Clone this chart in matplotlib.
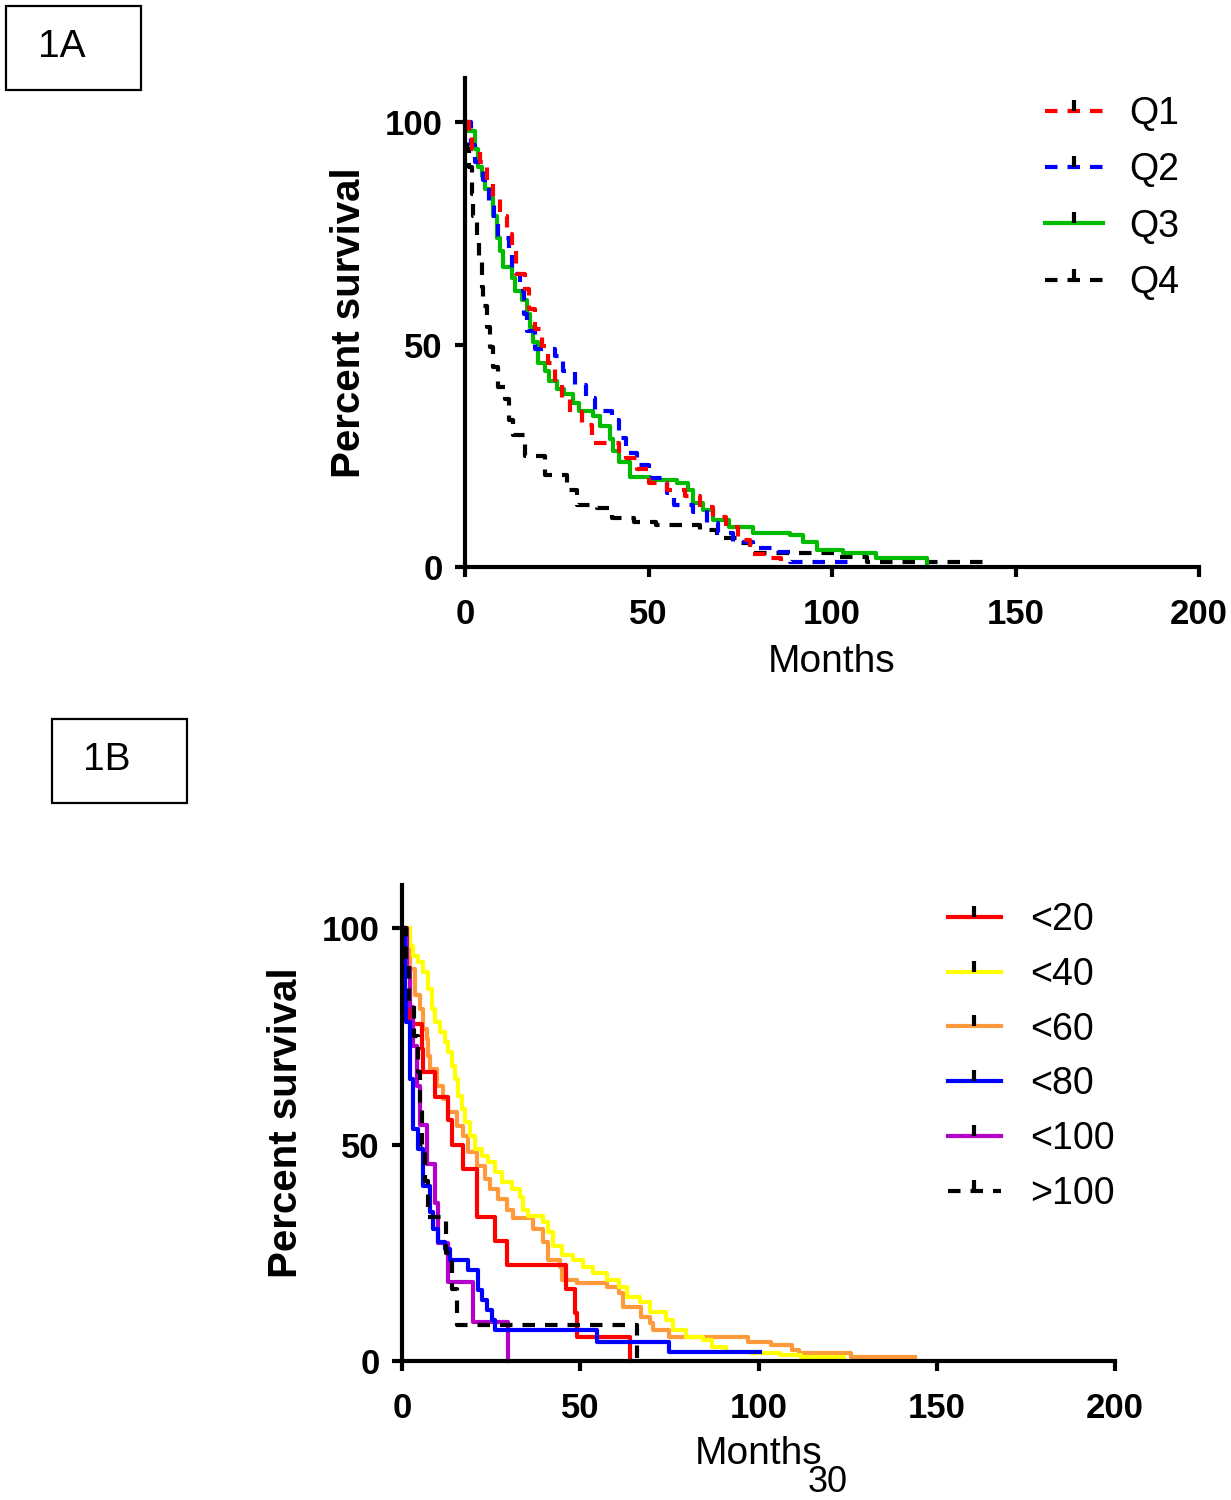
import matplotlib
matplotlib.use("Agg")
import matplotlib.pyplot as plt
from matplotlib.lines import Line2D
from matplotlib.patches import Rectangle

plt.rcParams['font.family'] = ['Liberation Sans', 'DejaVu Sans']

# ---- panel 1A : survival by quartile (months, percent survival) ----
q1_t = [0, 1, 2, 4, 6, 7.6, 9.5, 11.4, 12.8, 14, 16.3, 17.5, 19, 21, 22.6, 24.5, 26.4, 28.6, 32, 34.6,
        42, 44, 47, 50, 55, 60, 64, 67.6, 71, 74.4, 77.6, 82.6, 86]
q1_s = [100, 97, 94, 91, 87, 83, 79, 75, 71, 66, 62.5, 58, 53.5, 49.7, 46, 42, 38, 34.8, 32, 28,
        26, 24.6, 22, 19, 17.4, 16, 13.5, 11.3, 9, 6, 3, 2, 0]

q2_t = [0, 1.5, 2.7, 5, 6.5, 8, 9, 12, 12.8, 15, 16, 17, 19, 24.5, 26.8, 30, 33, 35.5, 40, 42,
        44, 47, 50, 55, 57, 62, 66, 69, 73, 78.5, 84.5, 88.6, 106]
q2_s = [100, 95, 91, 87, 82, 78, 74, 71, 66, 62, 57, 53, 49, 47.4, 44, 41, 38, 35, 33, 29,
        25.7, 23, 20, 16.7, 14, 12.4, 10, 7.7, 5.6, 4.3, 3.4, 1.1, 0]

q3_t = [0, 1, 2.7, 3.5, 4.6, 5.4, 6.8, 7.6, 8.7, 9.5, 10.4, 12.8, 13.6, 15.5, 16.9, 17.7, 18.5, 20, 21.8, 23,
        25, 27, 29.5, 31, 35, 36.8, 39.5, 40.3, 42, 45, 50.4, 57.7, 60.7, 62, 64.8, 67.6, 72, 78.5, 88.6, 92,
        95.9, 103, 112, 126]
q3_s = [100, 98, 94, 90, 88, 85, 83, 79, 74, 71, 67.5, 65, 62, 60, 57, 54, 50.7, 46, 44, 41.8,
        40, 39, 37, 35, 34, 31.8, 28.9, 26, 23.7, 20.3, 19.6, 19, 17.4, 14.4, 12.9, 10.6, 9, 7.7, 7.2, 5.6,
        3.8, 3.2, 2, 0]

q4_t = [0, 0.5, 1, 2, 2.3, 3.2, 3.7, 4.6, 5, 6, 6.8, 7.6, 9, 11, 12, 13, 16.3, 21.8, 27.8, 30.5,
        36, 40, 46, 52, 64, 68.6, 74, 78.6, 101, 109.5, 143]
q4_s = [100, 94, 90, 84, 79, 74, 68.6, 63, 58.7, 54, 49.5, 45, 40.6, 37.7, 33, 29.8, 25, 20.8, 17.4, 14,
        13.3, 11, 10.2, 9.5, 8.4, 6.5, 5.4, 3.2, 2.3, 1.1, 1.1]

# ---- panel 1B : survival by group ----
g20_t = [0, 0.8, 2.2, 5.5, 6, 9.2, 13, 14, 17, 21, 26, 29.4, 46, 48.5, 49.2, 64]
g20_s = [100, 83.3, 77.8, 72.2, 66.7, 61.1, 55.6, 50, 44.4, 33.3, 27.8, 22.2, 16.7, 11.1, 5.6, 0]

g40_t = [0, 2.2, 3, 4.5, 5.9, 7.3, 8.4, 9.2, 10.6, 12, 12.9, 14, 14.8, 15.7, 16.8, 17.6, 19, 20.4, 22.4, 24,
         26, 28, 30.8, 33, 33.9, 35.3, 39.5, 41, 42.4, 45, 48, 50.7, 53.5, 57.4, 61, 63, 66.7, 69.5, 74, 75.9,
         79.8, 84.3, 87, 91, 98, 106, 112, 124]
g40_s = [100, 96, 93.7, 92.3, 90, 86, 81.4, 78.4, 76, 73.8, 71.5, 68.2, 65.2, 61.3, 58.2, 55.2, 52, 49, 47.3, 46,
         43.6, 41.3, 39.7, 38, 35, 33.4, 32.2, 29.7, 26.5, 24.6, 23.4, 21.8, 20.4, 18.8, 17.2, 14.8, 13.7, 11.4, 9.5, 7.2,
         5.6, 4.9, 3.2, 2, 1.9, 1.4, 1.0, 1.0]

g60_t = [0, 2.2, 3.6, 5, 5.9, 7, 7.3, 7.8, 9.8, 11.5, 12.9, 15.4, 17, 18.5, 21, 23.2, 24.6, 26.9, 29.4, 31,
         36.7, 39.5, 41, 44.3, 45, 49, 57.4, 61, 62, 67, 69.5, 70.3, 75, 97, 103.6, 109.5, 111.5, 126, 144]
g60_s = [100, 90.7, 84.5, 81.4, 76.8, 74.5, 70.5, 67.5, 63.6, 60.6, 57.5, 54.3, 52, 48.3, 45, 42, 39.7, 37.4, 35, 33,
         30.4, 27.6, 23.4, 21.8, 18.8, 18.1, 17, 15.8, 12.5, 10.2, 8.8, 7.2, 5.6, 4.4, 3.7, 2.6, 1.9, 1.0, 1.0]

g80_t = [0, 0.8, 1.2, 2.2, 3, 4.5, 5.9, 7.8, 8.7, 10, 12, 13.4, 18.5, 21.3, 22.4, 23.8, 25.2, 26, 54.6, 75, 100.3]
g80_s = [100, 83, 78.4, 65.2, 53.6, 49, 40.4, 34.5, 30.4, 27.6, 25.8, 23.4, 21.1, 16.5, 14.2, 11.8, 9.5, 7.2, 4.4, 2.1, 2.1]

g100_t = [0, 1.5, 2.2, 3, 4.2, 5, 7, 9.2, 10.1, 12.9, 20, 29.7]
g100_s = [100, 90.9, 81.8, 72.7, 63.6, 54.5, 45.5, 36.4, 27.3, 18.2, 9.1, 0]

gover_t = [0, 1, 2, 3.5, 4.5, 5, 5.5, 6.5, 7.3, 12.3, 14, 15.4, 66]
gover_s = [100, 91.7, 83.3, 75, 66.7, 58.3, 50, 41.7, 33.3, 25, 16.7, 8.3, 0]

DASH = (0, (3.0, 2.4))
LW = 3.0


def style_axis(ax, xlabelpad=10):
    ax.set_xlim(0, 200)
    ax.set_ylim(0, 110)
    ax.set_xticks([0, 50, 100, 150, 200])
    ax.set_yticks([0, 50, 100])
    for s in ['top', 'right']:
        ax.spines[s].set_visible(False)
    for s in ['left', 'bottom']:
        ax.spines[s].set_linewidth(3)
    ax.tick_params(direction='out', length=7, width=3, labelsize=25)
    ax.tick_params(axis='x', pad=15)
    ax.tick_params(axis='y', pad=9)
    for lab in ax.get_xticklabels() + ax.get_yticklabels():
        lab.set_fontweight('bold')
    ax.set_xlabel('Months', fontsize=28, labelpad=xlabelpad)
    ax.set_ylabel('Percent survival', fontsize=29, fontweight='bold', labelpad=12)
    ax.patch.set_alpha(0)


def handle(color, ls):
    return Line2D([], [], color=color, lw=LW, ls=ls, marker=2, markersize=8,
                  markeredgewidth=3, markeredgecolor='black')


fig = plt.figure(figsize=(12.31, 15), dpi=100)

# panel A
axA = fig.add_axes([465 / 1231, 1 - 567 / 1500, 734 / 1231, 489 / 1500])
seriesA = [(q1_t, q1_s, '#FF0000', DASH, 'Q1'),
           (q2_t, q2_s, '#0000FF', DASH, 'Q2'),
           (q3_t, q3_s, '#00BB00', '-', 'Q3'),
           (q4_t, q4_s, '#000000', DASH, 'Q4')]
for t, s, c, ls, lab in seriesA[::-1]:
    axA.step(t, s, where='post', color=c, lw=LW, ls=ls, clip_on=False)
style_axis(axA)
axA.legend([handle(c, ls) for _, _, c, ls, _ in seriesA], [lab for *_, lab in seriesA],
           loc='upper left', bbox_to_anchor=(1045 / 1231, 1 - 96 / 1500), bbox_transform=fig.transFigure,
           frameon=False, fontsize=27, handlelength=1.55, handletextpad=0.7, labelspacing=0.54,
           borderpad=0, borderaxespad=0)

# panel B
axB = fig.add_axes([402 / 1231, 1 - 1361 / 1500, 713 / 1231, 476 / 1500])
seriesB = [(g20_t, g20_s, '#FF0000', '-', '<20'),
           (g40_t, g40_s, '#FFFF00', '-', '<40'),
           (g60_t, g60_s, '#FF9A3C', '-', '<60'),
           (g80_t, g80_s, '#0000FF', '-', '<80'),
           (g100_t, g100_s, '#B400C8', '-', '<100'),
           (gover_t, gover_s, '#000000', DASH, '>100')]
order = [2, 1, 0, 4, 3, 5]
for i in order:
    t, s, c, ls, lab = seriesB[i]
    axB.step(t, s, where='post', color=c, lw=LW, ls=ls, clip_on=False)
style_axis(axB, xlabelpad=8)
axB.legend([handle(c, ls) for _, _, c, ls, _ in seriesB], [lab for *_, lab in seriesB],
           loc='upper left', bbox_to_anchor=(948 / 1231, 1 - 902 / 1500), bbox_transform=fig.transFigure,
           frameon=False, fontsize=27, handlelength=1.4, handletextpad=0.78, labelspacing=0.5,
           borderpad=0, borderaxespad=0)

# panel tags and page number
fig.add_artist(Rectangle((6 / 1231, 1 - 90 / 1500), 135 / 1231, 84 / 1500, transform=fig.transFigure,
                         fill=False, lw=1.6, ec='black'))
fig.text(62 / 1231, 1 - 47 / 1500, '1A', fontsize=28, ha='center', va='center')
fig.add_artist(Rectangle((52 / 1231, 1 - 803 / 1500), 135 / 1231, 84 / 1500, transform=fig.transFigure,
                         fill=False, lw=1.6, ec='black'))
fig.text(107 / 1231, 1 - 760 / 1500, '1B', fontsize=28, ha='center', va='center')
fig.text(828 / 1231, 1 - 1483 / 1500, '30', fontsize=26, ha='center', va='center')

fig.savefig('out.png', dpi=100)
